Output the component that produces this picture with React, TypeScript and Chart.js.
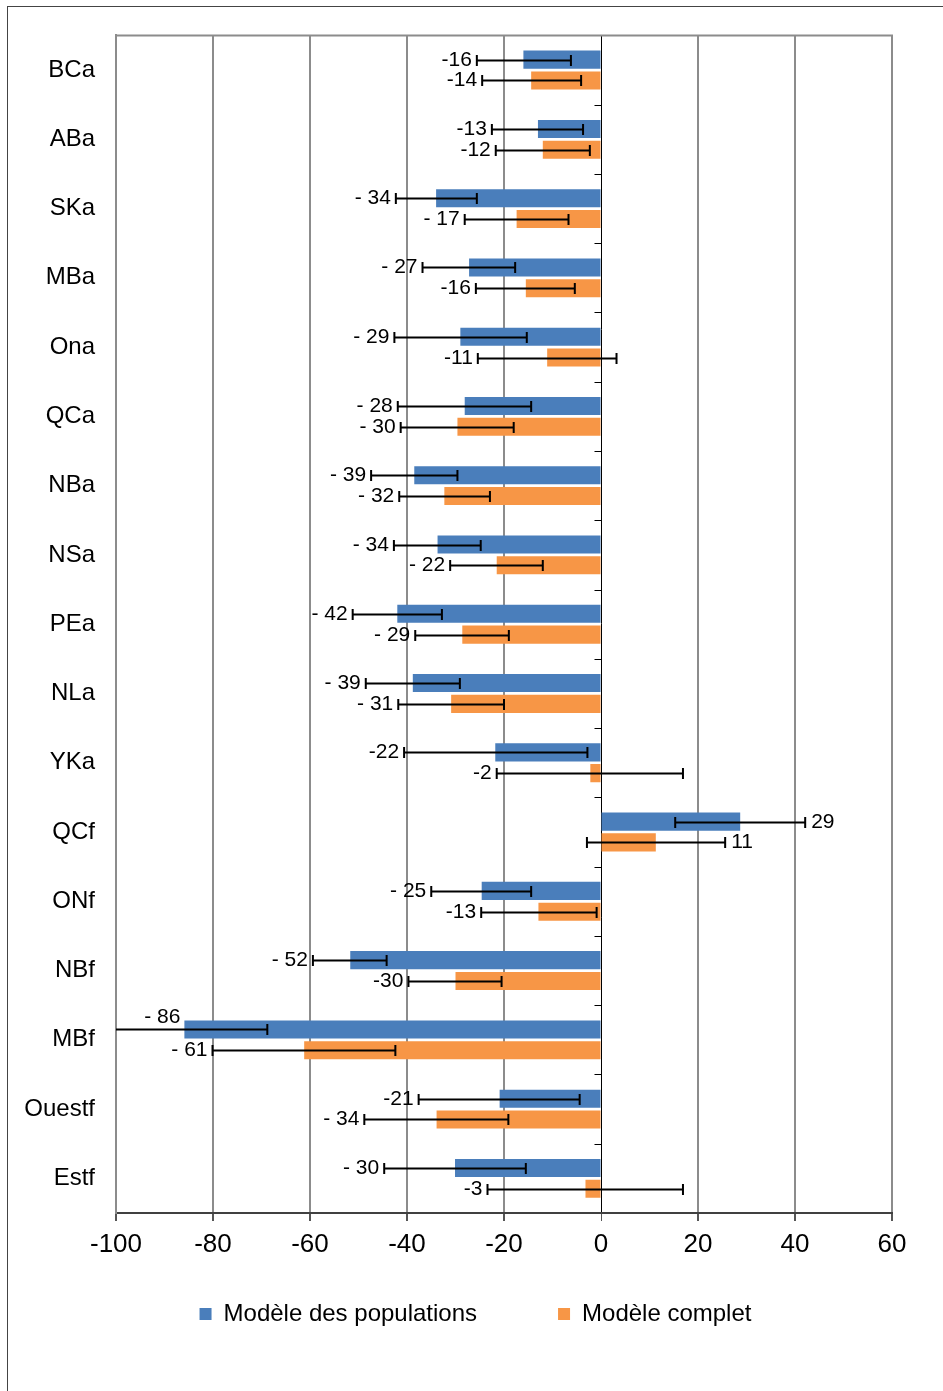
import React, { useEffect, useRef } from "react";
import { Chart, registerables } from "chart.js";

Chart.register(...registerables);

const FONT = "'Liberation Sans', Arial, Helvetica, sans-serif";

const categories = ["BCa", "ABa", "SKa", "MBa", "Ona", "QCa", "NBa", "NSa", "PEa", "NLa", "YKa", "QCf", "ONf", "NBf", "MBf", "Ouestf", "Estf"];

const xTicks = [-100, -80, -60, -40, -20, 0, 20, 40, 60];

// Modèle des populations (blue)
const popValues = [-16, -13, -34, -27.2, -29, -28.1, -38.5, -33.7, -42, -38.8, -21.8, 28.7, -24.6, -51.7, -85.9, -20.9, -30.1];
const popLow = [-25.6, -22.5, -42.3, -36.8, -42.6, -41.9, -47.4, -42.7, -51.2, -48.5, -40.6, 15.3, -35, -59.4, -103, -37.6, -44.7];
const popHigh = [-6.2, -3.7, -25.6, -17.7, -15.3, -14.4, -29.6, -24.8, -32.8, -29.1, -2.8, 42.1, -14.4, -44.2, -68.8, -4.4, -15.5];
const popLabels = ["-16", "-13", "- 34", "- 27", "- 29", "- 28", "- 39", "- 34", "- 42", "- 39", "-22", "29", "- 25", "- 52", "- 86", "-21", "- 30"];

// Modèle complet (orange)
const fullValues = [-14.4, -12, -17.4, -15.5, -11.1, -29.6, -32.3, -21.5, -28.6, -30.9, -2.2, 11.3, -12.9, -30, -61.2, -33.9, -3.2];
const fullLow = [-24.5, -21.7, -28.1, -25.8, -25.4, -41.3, -41.6, -31.1, -38.3, -41.8, -21.5, -2.9, -24.7, -39.7, -80.1, -48.8, -23.4];
const fullHigh = [-4.1, -2.3, -6.7, -5.4, 3.2, -18, -22.9, -12, -19, -20, 16.9, 25.6, -0.9, -20.5, -42.4, -19.1, 16.9];
const fullLabels = ["-14", "-12", "- 17", "-16", "-11", "- 30", "- 32", "- 22", "- 29", "- 31", "-2", "11", "-13", "-30", "- 61", "- 34", "-3"];

const seriesNames = ["Modèle des populations", "Modèle complet"];
const seriesColors = ["#4A7EBB", "#F79646"];

const axisDecorPlugin = {
  id: "axisDecor",
  beforeDatasetsDraw(chart: any) {
    const { ctx, chartArea } = chart;
    const xs = chart.scales.x;
    const n = categories.length;
    const band = (chartArea.bottom - chartArea.top) / n;
    const x0 = Math.round(xs.getPixelForValue(0)) + 0.5;
    ctx.save();
    ctx.strokeStyle = "#000";
    ctx.lineWidth = 1;
    ctx.beginPath();
    for (let k = 1; k < n; k++) {
      const y = Math.round(chartArea.top + k * band) + 0.5;
      ctx.moveTo(x0 - 7, y);
      ctx.lineTo(x0, y);
    }
    ctx.stroke();
    // top border of plot area
    ctx.strokeStyle = "#8c8c8c";
    ctx.lineWidth = 2;
    ctx.beginPath();
    ctx.moveTo(chartArea.left - 1, chartArea.top);
    ctx.lineTo(chartArea.right + 1, chartArea.top);
    ctx.stroke();
    ctx.restore();
  },
};

const errorBarPlugin = {
  id: "errorBars",
  afterDatasetsDraw(chart: any) {
    const { ctx, chartArea } = chart;
    const xs = chart.scales.x;
    chart.data.datasets.forEach((ds: any, i: number) => {
      const meta = chart.getDatasetMeta(i);
      meta.data.forEach((bar: any, j: number) => {
        const y = Math.round(bar.y) + 0.5;
        const xl = xs.getPixelForValue(ds.errLow[j]);
        const xh = xs.getPixelForValue(ds.errHigh[j]);
        ctx.save();
        ctx.strokeStyle = "#000";
        ctx.lineWidth = 2;
        ctx.beginPath();
        const xStart = Math.max(xl, chartArea.left);
        ctx.moveTo(xStart, y);
        ctx.lineTo(xh, y);
        if (xl >= chartArea.left) {
          ctx.moveTo(xl, y - 5.5);
          ctx.lineTo(xl, y + 5.5);
        }
        ctx.moveTo(xh, y - 5.5);
        ctx.lineTo(xh, y + 5.5);
        ctx.stroke();

        ctx.fillStyle = "#000";
        ctx.font = `21px ${FONT}`;
        ctx.textBaseline = "middle";
        const v = ds.data[j];
        const lab = ds.valueLabels[j];
        if (v >= 0) {
          ctx.textAlign = "left";
          ctx.fillText(lab, xh + 6, y);
        } else if (xl < chartArea.left) {
          ctx.textAlign = "right";
          ctx.fillText(lab, xs.getPixelForValue(v) - 4, y - 12);
        } else {
          ctx.textAlign = "right";
          ctx.fillText(lab, xl - 5, y);
        }
        ctx.restore();
      });
    });
  },
};

const legendPlugin = {
  id: "customLegend",
  afterDraw(chart: any) {
    const { ctx } = chart;
    ctx.save();
    ctx.font = `24px ${FONT}`;
    const box = 12;
    const gapText = 12;
    const gapItems = 81;
    const widths = chart.data.datasets.map((ds: any) => box + gapText + ctx.measureText(ds.label).width);
    const total = widths.reduce((a: number, b: number) => a + b, 0) + gapItems * (widths.length - 1);
    let x = 475.5 - total / 2;
    const yc = 1314;
    chart.data.datasets.forEach((ds: any, i: number) => {
      ctx.fillStyle = ds.backgroundColor;
      ctx.fillRect(x, yc - box / 2, box, box);
      ctx.fillStyle = "#000";
      ctx.textAlign = "left";
      ctx.textBaseline = "middle";
      ctx.fillText(ds.label, x + box + gapText, yc);
      x += widths[i] + gapItems;
    });
    ctx.restore();
  },
};

function BarChart() {
  const ref = useRef<HTMLCanvasElement | null>(null);
  useEffect(() => {
    if (!ref.current) return;
    const chart = new Chart(ref.current, {
      type: "bar",
      data: {
        labels: categories,
        datasets: [
          {
            label: seriesNames[0],
            data: popValues,
            backgroundColor: seriesColors[0],
            borderWidth: 0,
            barPercentage: 0.87,
            categoryPercentage: 0.6,
            errLow: popLow,
            errHigh: popHigh,
            valueLabels: popLabels,
          } as any,
          {
            label: seriesNames[1],
            data: fullValues,
            backgroundColor: seriesColors[1],
            borderWidth: 0,
            barPercentage: 0.87,
            categoryPercentage: 0.6,
            errLow: fullLow,
            errHigh: fullHigh,
            valueLabels: fullLabels,
          } as any,
        ],
      },
      options: {
        indexAxis: "y",
        responsive: false,
        animation: false,
        devicePixelRatio: 1,
        layout: { padding: { top: 34, right: 51, left: 0, bottom: 0 } },
        plugins: {
          legend: { display: false },
          tooltip: { enabled: false },
        },
        scales: {
          x: {
            type: "linear",
            min: xTicks[0],
            max: xTicks[xTicks.length - 1],
            afterBuildTicks: (s: any) => {
              s.ticks = xTicks.map((v) => ({ value: v }));
            },
            ticks: {
              font: { size: 26, family: FONT },
              color: "#000",
              padding: 8,
              maxRotation: 0,
              autoSkip: false,
            },
            grid: {
              color: (c: any) => (c.tick && c.tick.value === 0 ? "#000" : "#8c8c8c"),
              lineWidth: (c: any) => (c.tick && c.tick.value === 0 ? 1 : 2),
              tickLength: 8,
              tickColor: "#555",
            },
            border: { color: "#404040", width: 2 },
            afterFit: (s: any) => {
              s.height = 178;
            },
          },
          y: {
            type: "category",
            grid: { display: false, drawTicks: false },
            border: { display: true, color: "#8c8c8c", width: 2 },
            ticks: {
              font: { size: 24, family: FONT },
              color: "#000",
              padding: 21,
              autoSkip: false,
            },
            afterFit: (s: any) => {
              s.width = 116;
            },
          },
        },
      } as any,
      plugins: [axisDecorPlugin, errorBarPlugin, legendPlugin],
    });
    return () => chart.destroy();
  }, []);
  return <canvas ref={ref} width={943} height={1391} style={{ position: "absolute", left: 0, top: 0, width: 943, height: 1391 }} />;
}

export default function App() {
  return (
    <div style={{ position: "absolute", left: 0, top: 0, width: 943, height: 1391, overflow: "hidden", background: "#fff" }}>
      <div
        style={{
          position: "absolute",
          left: 7,
          top: 6,
          width: 2000,
          height: 2000,
          borderLeft: "1px solid #444",
          borderTop: "1px solid #444",
        }}
      />
      <BarChart />
    </div>
  );
}
